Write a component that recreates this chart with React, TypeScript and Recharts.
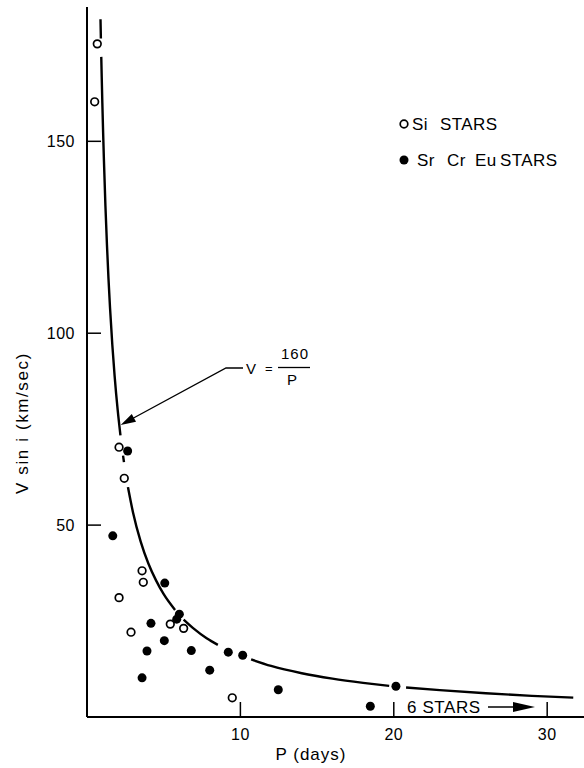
import { ComposedChart, Line, Scatter, XAxis, YAxis } from "recharts";

// V = 160/P curve (null = break in the drawn line)
const curveP = [0.88, 0.905, 0.92, 0.93, 0.96, 1.0, 1.05, 1.1, 1.2, 1.3, 1.4, 1.5, 1.65, 1.8, 2.0, 2.18, 2.26, 2.35, 2.41, 2.55, 2.67, 3.0, 3.5, 4.0, 4.5, 5.0, 5.74, 6.0, 6.3, 7.0, 7.8, 8.53, 9.5, 10.7, 12, 14, 16, 18, 19.7, 20.3, 20.8, 23, 26, 29, 31.7];
const curveV = [181.8, 176.8, null, 172, 166.7, 160, 152.4, 145.5, 133.3, 123.1, 114.3, 106.7, 97, 88.9, 80, 73.4, null, 68.1, 66.4, null, 59.9, 53.3, 45.7, 40, 35.6, 32, 27.9, null, 25.4, 22.9, 20.5, 18.8, null, 15, 13.3, 11.4, 10, 8.9, 8.1, null, 7.7, 7.0, 6.2, 5.5, 5.05];

// Si stars (open circles)
const siP = [0.67, 0.5, 2.09, 2.43, 3.59, 3.67, 2.09, 5.43, 6.3, 2.87, 9.47];
const siV = [175.4, 160.3, 70.3, 62.2, 38.1, 35.1, 31.1, 24.2, 23.1, 22.1, 5.0];

// Sr Cr Eu stars (filled)
const srP = [2.65, 1.68, 5.07, 6.02, 5.85, 4.17, 5.04, 3.91, 6.8, 9.21, 10.15, 8.0, 3.59, 12.47, 18.47, 20.14];
const srV = [69.3, 47.2, 34.9, 26.8, 25.5, 24.4, 19.9, 17.2, 17.3, 16.9, 16.1, 12.2, 10.2, 7.1, 2.8, 8.0];

const xTicks = [10, 20, 30];
const yTicks = [50, 100, 150];

const curve = curveP.map((p, i) => ({ p, v: curveV[i] }));
const si = siP.map((p, i) => ({ p, v: siV[i] }));
const sr = srP.map((p, i) => ({ p, v: srV[i] }));

const FONT = "'Liberation Sans', Arial, sans-serif";

const YTick = (props: any) => {
  const { x, y, payload } = props;
  return (
    <g>
      <line x1={x} x2={x + 14} y1={y} y2={y} stroke="#000" strokeWidth={1.5} />
      <text x={x - 12} y={y} dy="0.36em" textAnchor="end" fontSize={16} letterSpacing={0.5} fill="#000">
        {payload.value}
      </text>
    </g>
  );
};

const XTick = (props: any) => {
  const { x, y, payload } = props;
  return (
    <g>
      <line x1={x} x2={x} y1={y} y2={y - 15} stroke="#000" strokeWidth={1.5} />
      <text x={x} y={y + 23} textAnchor="middle" fontSize={16} letterSpacing={0.5} fill="#000">
        {payload.value}
      </text>
    </g>
  );
};

const OpenDot = (props: any) => (
  <circle cx={props.cx} cy={props.cy} r={3.8} fill="#fff" stroke="#000" strokeWidth={1.7} />
);

const FilledDot = (props: any) => (
  <circle cx={props.cx} cy={props.cy} r={4.5} fill="#000" />
);

function arrowHead(tx: number, ty: number, fx: number, fy: number, len: number, half: number) {
  const dx = tx - fx;
  const dy = ty - fy;
  const d = Math.hypot(dx, dy);
  const ux = dx / d;
  const uy = dy / d;
  const bx = tx - ux * len;
  const by = ty - uy * len;
  return `${tx},${ty} ${bx - uy * half},${by + ux * half} ${bx + uy * half},${by - ux * half}`;
}

export default function App() {
  return (
    <div style={{ position: "absolute", left: 0, top: 0, width: 584, height: 768, background: "#fff", fontFamily: FONT }}>
      <ComposedChart width={584} height={768} margin={{ top: 7, right: 0, bottom: 0, left: 0 }}>
        <XAxis
          type="number"
          dataKey="p"
          domain={[0, 32.4]}
          ticks={xTicks}
          allowDataOverflow
          height={51}
          tickSize={0}
          tickMargin={0}
          tickLine={false}
          tick={<XTick />}
          axisLine={{ stroke: "#000", strokeWidth: 2 }}
        />
        <YAxis
          type="number"
          domain={[0, 185]}
          ticks={yTicks}
          allowDataOverflow
          width={87}
          tickSize={0}
          tickMargin={0}
          tickLine={false}
          tick={<YTick />}
          axisLine={{ stroke: "#000", strokeWidth: 2 }}
        />
        <Line
          data={curve}
          dataKey="v"
          type="monotone"
          stroke="#000"
          strokeWidth={2.4}
          dot={false}
          activeDot={false}
          connectNulls={false}
          isAnimationActive={false}
        />
        <Scatter data={si} dataKey="v" shape={<OpenDot />} isAnimationActive={false} />
        <Scatter data={sr} dataKey="v" shape={<FilledDot />} isAnimationActive={false} />
      </ComposedChart>

      <svg
        width={584}
        height={768}
        style={{ position: "absolute", left: 0, top: 0, pointerEvents: "none" }}
        fontFamily={FONT}
        fill="#000"
      >
        {/* axis titles */}
        <text x={311} y={760} textAnchor="middle" fontSize={17} letterSpacing={1}>
          P (days)
        </text>
        <text
          x={28}
          y={423}
          textAnchor="middle"
          fontSize={17}
          letterSpacing={1.6}
          transform="rotate(-90 28 423)"
        >
          V sin i (km/sec)
        </text>

        {/* legend */}
        <circle cx={404} cy={124} r={3.8} fill="#fff" stroke="#000" strokeWidth={1.7} />
        <text y={130} fontSize={17} letterSpacing={0.4}>
          <tspan x={412}>Si</tspan>
          <tspan x={440}>STARS</tspan>
        </text>
        <circle cx={404} cy={160} r={4.5} fill="#000" />
        <text y={166} fontSize={17} letterSpacing={0.4}>
          <tspan x={417}>Sr</tspan>
          <tspan x={447}>Cr</tspan>
          <tspan x={475}>Eu</tspan>
          <tspan x={500}>STARS</tspan>
        </text>

        {/* V = 160 / P annotation */}
        <polyline points="243,368 226,368 128,421" fill="none" stroke="#000" strokeWidth={1.3} />
        <polygon points={arrowHead(120.7, 425, 226, 368, 15, 4.5)} fill="#000" />
        <text x={246} y={374} fontSize={15}>V</text>
        <text x={265} y={373} fontSize={13}>=</text>
        <line x1={278} x2={310} y1={367.5} y2={367.5} stroke="#000" strokeWidth={1.3} />
        <text x={295} y={359} textAnchor="middle" fontSize={15} letterSpacing={1}>160</text>
        <text x={292} y={385} textAnchor="middle" fontSize={15}>P</text>

        {/* 6 STARS beyond the axis */}
        <text x={407} y={713} fontSize={17} letterSpacing={0.6}>6 STARS</text>
        <line x1={488} x2={516} y1={707} y2={707} stroke="#000" strokeWidth={1.5} />
        <polygon points={arrowHead(535, 707, 488, 707, 22, 5)} fill="#000" />
      </svg>
    </div>
  );
}
